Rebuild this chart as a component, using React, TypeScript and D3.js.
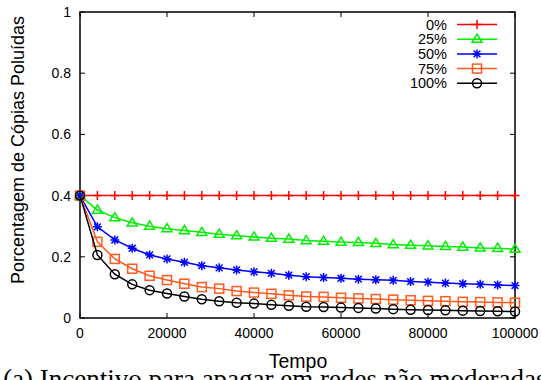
import { useEffect, useRef } from 'react';
import * as d3 from 'd3';

const times = d3.range(0, 100001, 4000);
const seriesNames = ['0%', '25%', '50%', '75%', '100%'];
const seriesColors = ['#ff0000', '#00ee00', '#0000ff', '#ff5a1e', '#000000'];
const seriesMarkers = ['plus', 'triangle', 'star', 'square', 'circle'];

const s0 = [0.4, 0.4, 0.4, 0.4, 0.4, 0.4, 0.4, 0.4, 0.4, 0.4, 0.4, 0.4, 0.4, 0.4, 0.4, 0.4, 0.4, 0.4, 0.4, 0.4, 0.4, 0.4, 0.4, 0.4, 0.4, 0.4];
const s25 = [0.4, 0.353, 0.328, 0.311, 0.300, 0.292, 0.286, 0.280, 0.274, 0.269, 0.265, 0.261, 0.258, 0.253, 0.251, 0.248, 0.247, 0.244, 0.240, 0.238, 0.236, 0.234, 0.232, 0.229, 0.228, 0.225];
const s50 = [0.4, 0.298, 0.255, 0.228, 0.206, 0.193, 0.182, 0.171, 0.164, 0.157, 0.151, 0.146, 0.140, 0.135, 0.132, 0.130, 0.127, 0.125, 0.123, 0.119, 0.117, 0.114, 0.112, 0.110, 0.108, 0.106];
const s75 = [0.4, 0.249, 0.193, 0.161, 0.138, 0.124, 0.112, 0.101, 0.096, 0.088, 0.083, 0.079, 0.074, 0.070, 0.069, 0.066, 0.064, 0.062, 0.060, 0.058, 0.056, 0.055, 0.053, 0.052, 0.051, 0.050];
const s100 = [0.4, 0.206, 0.143, 0.110, 0.091, 0.080, 0.070, 0.061, 0.055, 0.050, 0.047, 0.043, 0.040, 0.037, 0.036, 0.034, 0.033, 0.031, 0.029, 0.027, 0.026, 0.025, 0.024, 0.023, 0.022, 0.021];
const allSeries = [s0, s25, s50, s75, s100];

const xTicks = [0, 20000, 40000, 60000, 80000, 100000];
const yTicks = [0, 0.2, 0.4, 0.6, 0.8, 1];

const W = 541;
const H = 380;

function drawMarker(g: d3.Selection<SVGGElement, unknown, null, undefined>, kind: string, x: number, y: number, color: string) {
  const s = 4.5;
  if (kind === 'plus') {
    g.append('path').attr('d', `M${x - s},${y}H${x + s}M${x},${y - s}V${y + s}`)
      .attr('stroke', color).attr('stroke-width', 1.5).attr('fill', 'none');
  } else if (kind === 'star') {
    const d = s * 0.75;
    g.append('path').attr('d', `M${x - s},${y}H${x + s}M${x},${y - s}V${y + s}M${x - d},${y - d}L${x + d},${y + d}M${x - d},${y + d}L${x + d},${y - d}`)
      .attr('stroke', color).attr('stroke-width', 1.5).attr('fill', 'none');
  } else if (kind === 'triangle') {
    g.append('path').attr('d', `M${x},${y - s - 0.5}L${x + s + 0.5},${y + s * 0.7}L${x - s - 0.5},${y + s * 0.7}Z`)
      .attr('stroke', color).attr('stroke-width', 1.5).attr('fill', 'none');
  } else if (kind === 'square') {
    g.append('rect').attr('x', x - s).attr('y', y - s).attr('width', 2 * s).attr('height', 2 * s)
      .attr('stroke', color).attr('stroke-width', 1.5).attr('fill', 'none');
  } else {
    g.append('circle').attr('cx', x).attr('cy', y).attr('r', s)
      .attr('stroke', color).attr('stroke-width', 1.5).attr('fill', 'none');
  }
}

export default function App() {
  const svgRef = useRef<SVGSVGElement>(null);

  useEffect(() => {
    if (!svgRef.current) return;
    const svg = d3.select(svgRef.current);
    svg.selectAll('*').remove();

    const left = 80, right = 515, top = 12, bottom = 318;
    const x = d3.scaleLinear().domain([0, 100000]).range([left, right]);
    const y = d3.scaleLinear().domain([0, 1]).range([bottom, top]);
    const font = "'Liberation Sans', Arial, sans-serif";

    const g = svg.append('g');

    // ticks, mirrored inward on all sides
    const tickLen = 5;
    yTicks.forEach(t => {
      g.append('line').attr('x1', left).attr('x2', left + tickLen).attr('y1', y(t)).attr('y2', y(t)).attr('stroke', '#000');
      g.append('line').attr('x1', right).attr('x2', right - tickLen).attr('y1', y(t)).attr('y2', y(t)).attr('stroke', '#000');
      g.append('text').attr('x', left - 9).attr('y', y(t) + 5).attr('text-anchor', 'end')
        .attr('font-family', font).attr('font-size', 14).text(String(t));
    });
    xTicks.forEach(t => {
      g.append('line').attr('x1', x(t)).attr('x2', x(t)).attr('y1', bottom).attr('y2', bottom - tickLen).attr('stroke', '#000');
      g.append('line').attr('x1', x(t)).attr('x2', x(t)).attr('y1', top).attr('y2', top + tickLen).attr('stroke', '#000');
      g.append('text').attr('x', x(t)).attr('y', 338).attr('text-anchor', 'middle')
        .attr('font-family', font).attr('font-size', 14).text(String(t));
    });

    g.append('rect').attr('x', left).attr('y', top).attr('width', right - left).attr('height', bottom - top)
      .attr('fill', 'none').attr('stroke', '#000').attr('stroke-width', 1.5);

    const line = d3.line<number>().x((_, i) => x(times[i])).y(d => y(d));

    allSeries.forEach((vals, si) => {
      const color = seriesColors[si];
      const sg = svg.append('g');
      sg.append('path').datum(vals).attr('d', line).attr('fill', 'none').attr('stroke', color).attr('stroke-width', 1.5);
      vals.forEach((v, i) => drawMarker(sg, seriesMarkers[si], x(times[i]), y(v), color));
    });

    // legend
    const lg = svg.append('g');
    seriesNames.forEach((name, i) => {
      const ly = 24.5 + i * 14.7;
      lg.append('text').attr('x', 447).attr('y', ly + 5).attr('text-anchor', 'end')
        .attr('font-family', font).attr('font-size', 14.5).text(name);
      lg.append('line').attr('x1', 457).attr('x2', 497).attr('y1', ly).attr('y2', ly)
        .attr('stroke', seriesColors[i]).attr('stroke-width', 1.5);
      drawMarker(lg, seriesMarkers[i], 477, ly, seriesColors[i]);
    });

    // axis titles
    svg.append('text').attr('x', 298).attr('y', 368).attr('text-anchor', 'middle')
      .attr('font-family', font).attr('font-size', 19.5).text('Tempo');
    svg.append('text').attr('transform', `translate(24,150) rotate(-90)`).attr('text-anchor', 'middle')
      .attr('font-family', font).attr('font-size', 18).text('Porcentagem de Cópias Poluídas');

    svg.append('text').attr('x', 3).attr('y', 388).attr('text-anchor', 'start')
      .attr('font-family', "'Liberation Serif', 'Times New Roman', serif").attr('font-size', 27)
      .text('(a) Incentivo para apagar em redes não moderadas');
  }, []);

  return (
    <svg ref={svgRef} width={W} height={H}
      style={{ position: 'absolute', left: 0, top: 0, background: '#fff' }} />
  );
}
